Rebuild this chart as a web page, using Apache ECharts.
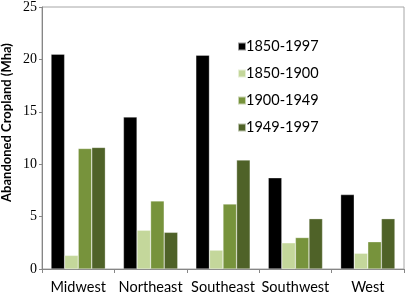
<!DOCTYPE html>
<html><head><meta charset="utf-8">
<script src="https://cdn.jsdelivr.net/npm/echarts@6/dist/echarts.min.js"></script>
<style>html,body{margin:0;padding:0;background:#fff}#c{width:406px;height:295px}</style>
</head><body><div id="c"></div>
<script>
var categories = ['Midwest', 'Northeast', 'Southeast', 'Southwest', 'West'];
var seriesNames = ['1850-1997', '1850-1900', '1900-1949', '1949-1997'];
var s1850_1997 = [20.5, 14.5, 20.4, 8.7, 7.1];
var s1850_1900 = [1.3, 3.7, 1.8, 2.5, 1.5];
var s1900_1949 = [11.5, 6.5, 6.2, 3.0, 2.6];
var s1949_1997 = [11.6, 3.5, 10.4, 4.8, 4.8];
var yTicks = [0, 5, 10, 15, 20, 25];
var colors = ['#000000', '#c4d79b', '#77933c', '#4f6228'];
var allData = [s1850_1997, s1850_1900, s1900_1949, s1949_1997];

var chart = echarts.init(document.getElementById('c'), null, {renderer: 'canvas'});
chart.setOption({
  animation: false,
  backgroundColor: '#ffffff',
  grid: {left: 42, right: 2, top: 4.5, bottom: 24, show: true, borderColor: '#a6a6a6', borderWidth: 1, containLabel: false},
  legend: {
    orient: 'vertical', left: 232, top: 34, itemGap: 12, itemWidth: 8, itemHeight: 8,
    icon: 'rect',
    textStyle: {fontFamily: 'Lato', fontSize: 14.5, color: '#000', padding: [0,0,0,-5]},
    data: seriesNames
  },
  xAxis: {
    type: 'category', data: categories,
    axisLine: {lineStyle: {color: '#868686', width: 1}},
    axisTick: {show: true, length: 4, lineStyle: {color: '#868686'}},
    axisLabel: {interval: 0, fontFamily: 'Lato', fontSize: 14.5, color: '#000', margin: 11}
  },
  yAxis: {
    type: 'value', min: 0, max: 25, interval: 5,
    axisLine: {show: true, lineStyle: {color: '#868686', width: 1}},
    axisTick: {show: true, length: 3, lineStyle: {color: '#868686'}},
    splitLine: {show: false},
    axisLabel: {fontFamily: 'Liberation Serif', fontSize: 14, color: '#000', margin: 5,
      formatter: function (v) { return yTicks.indexOf(v) >= 0 ? String(v) : ''; }}
  },
  graphic: [{
    type: 'text', x: 7, y: 122.5, rotation: Math.PI / 2,
    style: {text: 'Abandoned Cropland (Mha)', fontFamily: 'Lato', fontWeight: 'bold', fontSize: 13,
      fill: '#000', align: 'center', verticalAlign: 'middle'}
  }],
  series: seriesNames.map(function (n, i) {
    return {
      name: n, type: 'bar', data: allData[i], barGap: '0%', barCategoryGap: '25%',
      itemStyle: {color: colors[i], borderColor: 'rgba(255,255,255,0.6)', borderWidth: 0.5}
    };
  })
});
</script></body></html>
